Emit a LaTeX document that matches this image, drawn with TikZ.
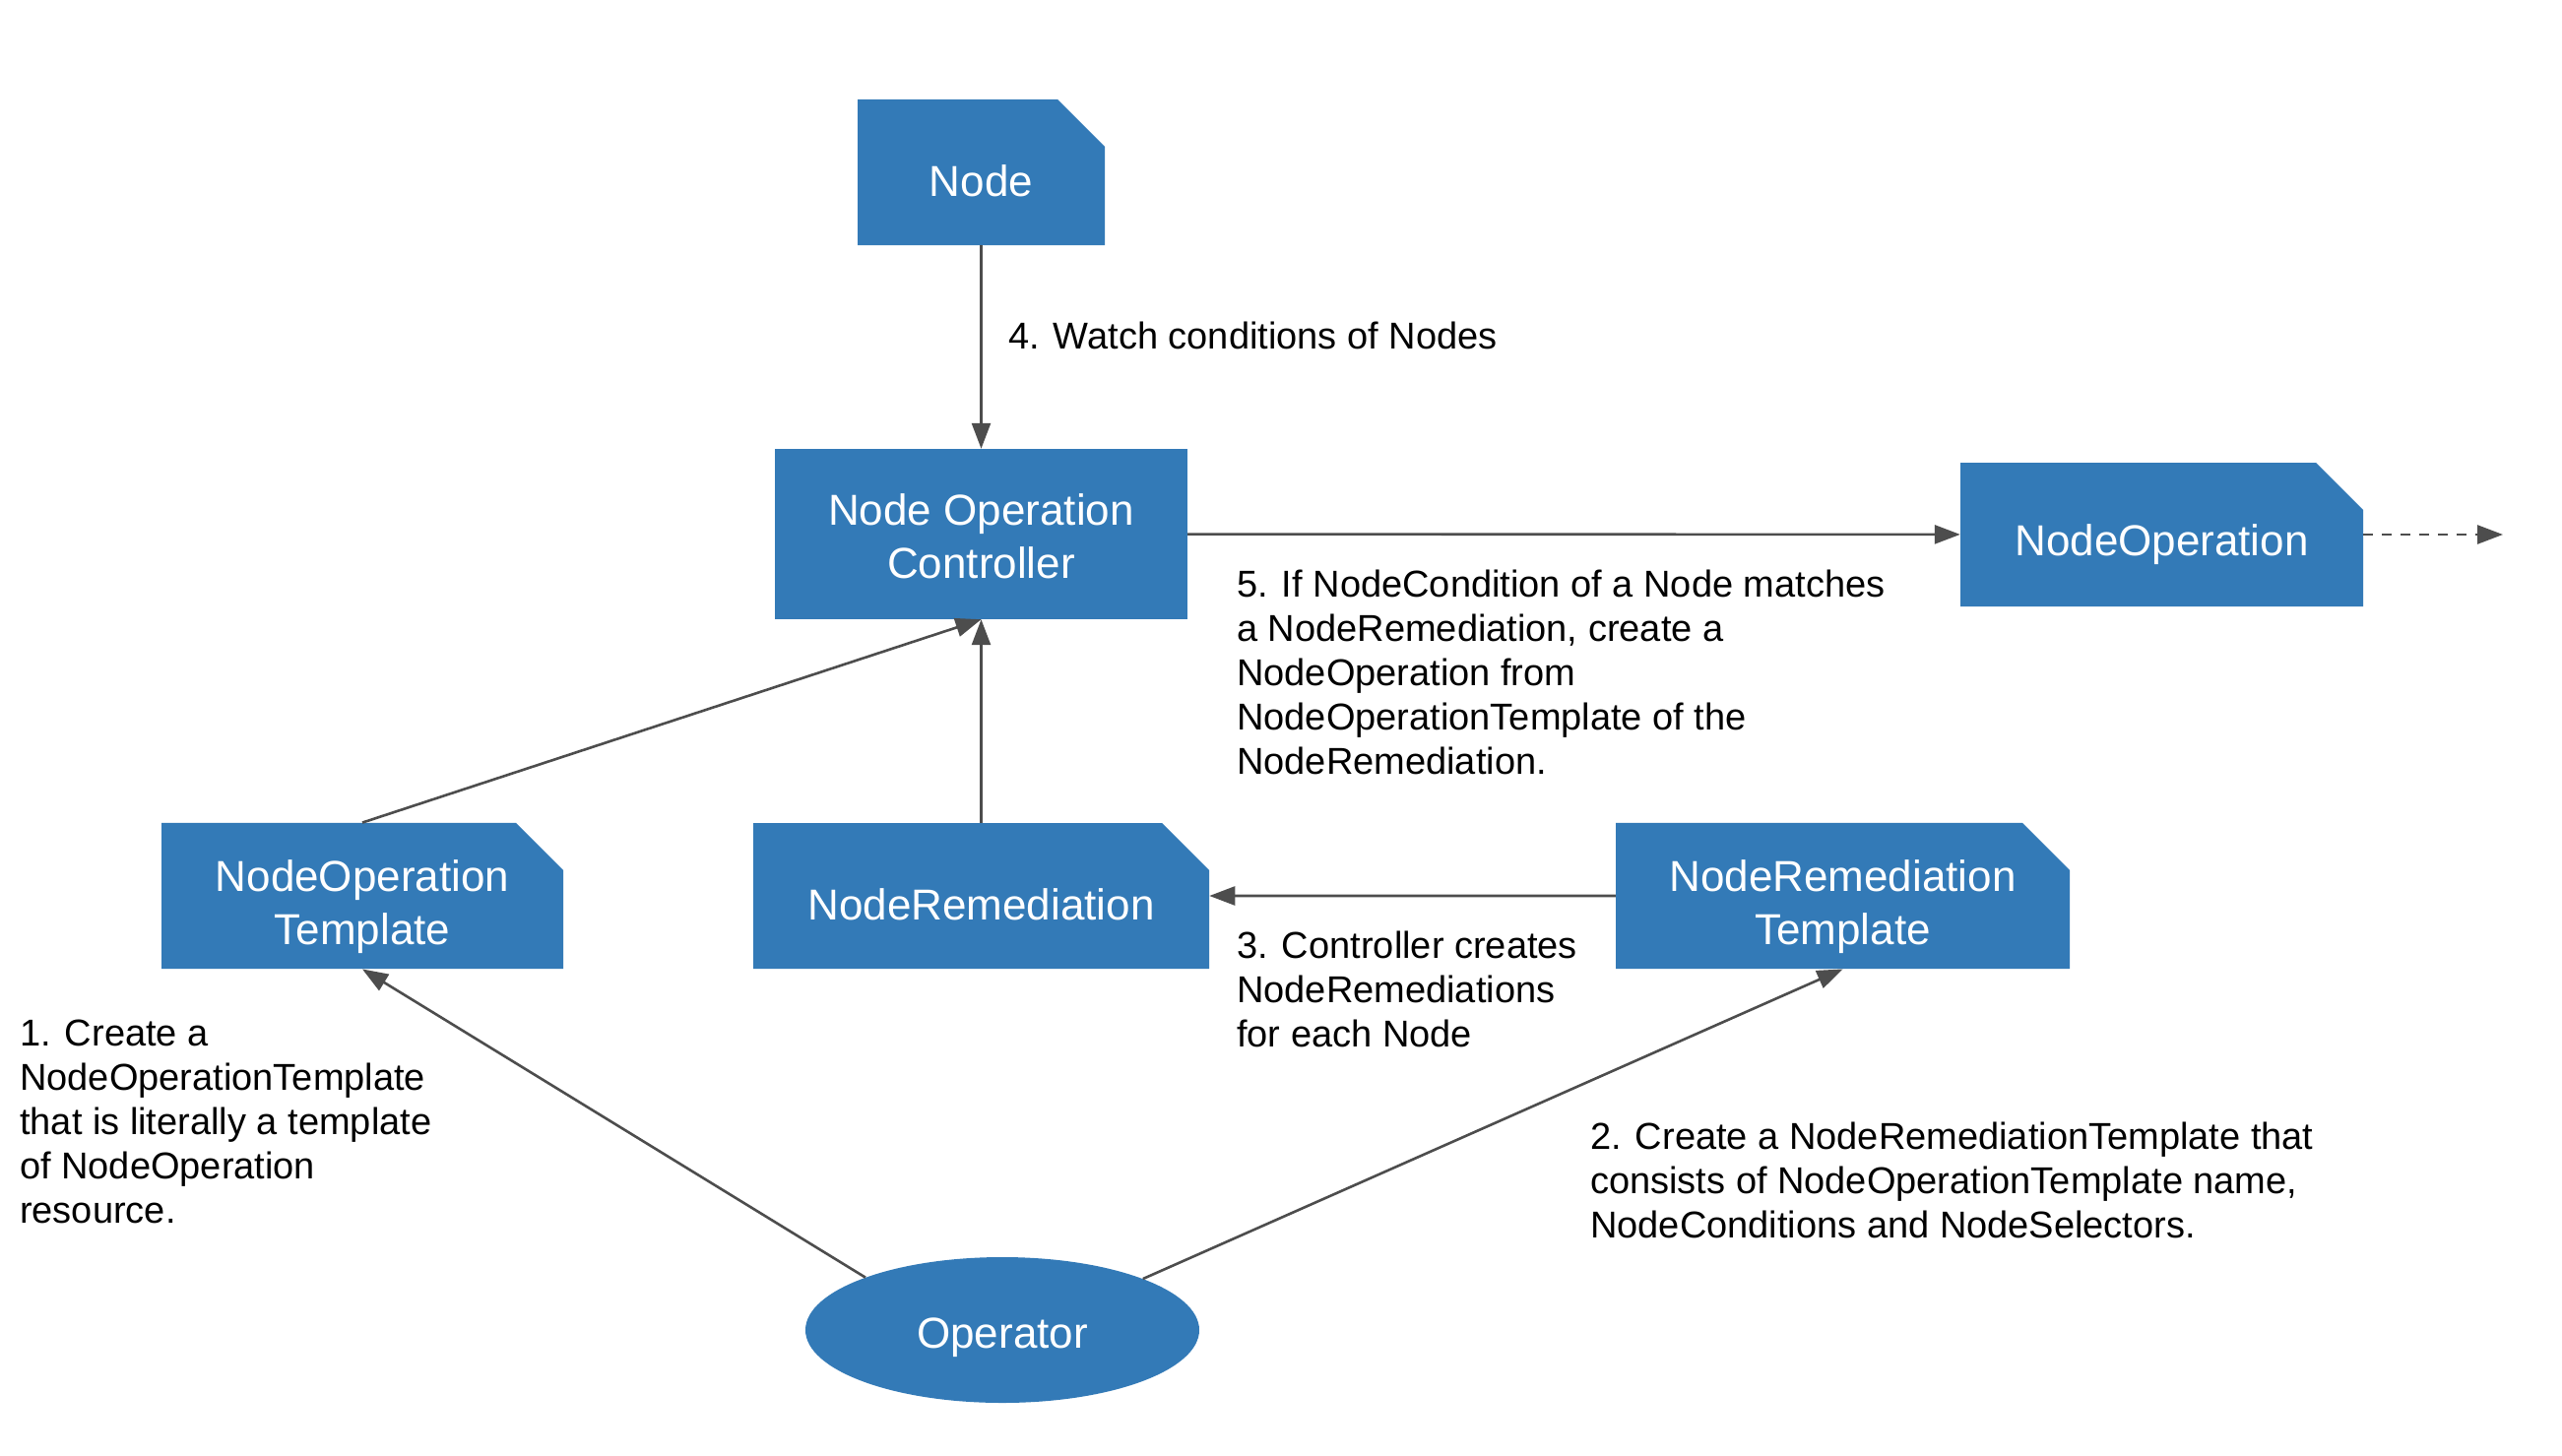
\documentclass[tikz,border=0pt]{standalone}
\usepackage{fontspec}
\setmainfont{Liberation Sans}
\usetikzlibrary{shapes.misc,shapes.geometric,arrows.meta}
\definecolor{boxblue}{RGB}{51,122,183}
\definecolor{linegray}{RGB}{77,77,77}
\begin{document}
\begin{tikzpicture}[x=1pt,y=-1pt,
  boxtext/.style={text=white, font=\fontsize{44}{54}\selectfont, align=center, inner sep=0pt},
  lowertext/.style={execute at begin node={\rule{0pt}{#1}}},
  dogear/.style={boxtext, chamfered rectangle, chamfered rectangle corners=north east,
    chamfered rectangle xsep=24pt, chamfered rectangle ysep=24pt, fill=boxblue},
  plainbox/.style={boxtext, rectangle, fill=boxblue},
  actor/.style={boxtext, ellipse, fill=boxblue},
  conn/.style={draw=linegray, line width=2.6pt, -{Triangle[length=26pt,width=19pt]}},
  note/.style={anchor=north west, inner sep=0pt, align=left, font=\fontsize{38}{45}\selectfont, text=black}]
\fill[white] (0,0) rectangle (2602,1478);
\useasboundingbox (0,0) rectangle (2602,1478);

% boxes
\node[dogear, lowertext=50pt, minimum width=251pt, minimum height=148pt] (node) at (996.5,175) {Node};
\node[plainbox, minimum width=419pt, minimum height=173pt] (noc) at (996.5,542.5) {\rule{0pt}{36pt}Node Operation\\Controller};
\node[dogear, lowertext=52pt, minimum width=409pt, minimum height=146pt] (nop) at (2195.5,543) {NodeOperation};
\node[dogear, minimum width=408pt, minimum height=148pt] (not) at (368,910) {\rule{0pt}{46pt}NodeOperation\\Tem\smash{p}late};
\node[dogear, lowertext=50pt, minimum width=463pt, minimum height=148pt] (nr) at (996.5,910) {NodeRemediation};
\node[dogear, minimum width=461pt, minimum height=148pt] (nrt) at (1871.5,910) {\rule{0pt}{46pt}NodeRemediation\\Tem\smash{p}late};
\node[actor, lowertext=46pt, minimum width=400pt, minimum height=148pt] (op) at (1018,1351) {Operator};
\coordinate (out) at (2542,543);

% connectors
\draw[conn] (node) -- (noc);
\draw[conn] (noc) -- (nop);
\draw[conn, dash pattern=on 10pt off 9pt] (nop.east) -- (out);
\draw[conn] (not.north) -- (noc.south);
\draw[conn] (nr) -- (noc);
\draw[conn] (nrt) -- (nr);
\draw[conn] (op.159) -- (not.south);
\draw[conn] (op.20) -- (nrt.south);

% notes
\node[note] (n4) at (1024,327) {4. Watch conditions of Nodes};
\node[note] (n5) at (1256,579) {5. If NodeCondition of a Node matches\\a NodeRemediation, create a\\NodeOperation from\\NodeOperationTemplate of the\\NodeRemediation.};
\node[note] (n3) at (1256,946) {3. Controller creates\\NodeRemediations\\for each Node};
\node[note] (n1) at (20,1036) {1. Create a\\NodeOperationTemplate\\that is literally a template\\of NodeOperation\\resource.};
\node[note] (n2) at (1615,1140) {2. Create a NodeRemediationTemplate that\\consists of NodeOperationTemplate name,\\NodeConditions and NodeSelectors.};
\end{tikzpicture}
\end{document}
